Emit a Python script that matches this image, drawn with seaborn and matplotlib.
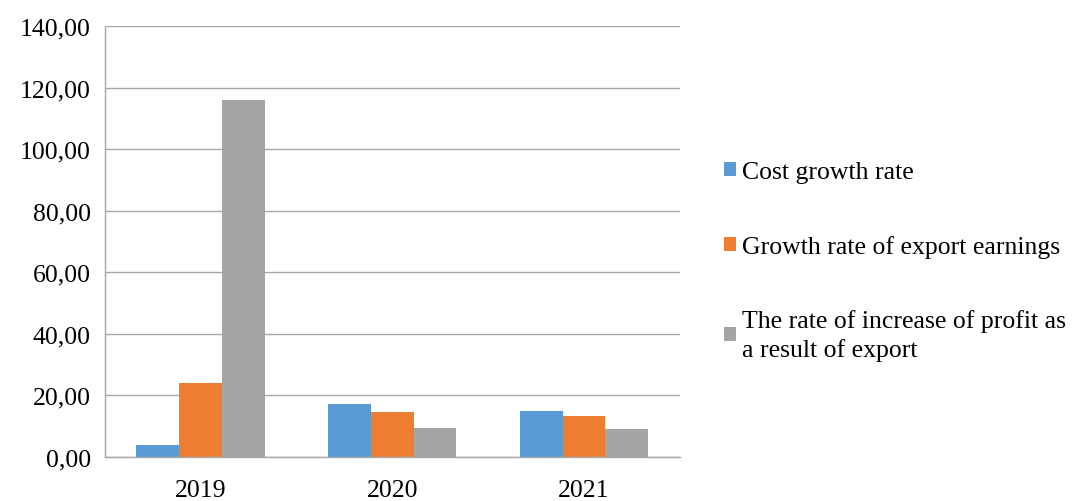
import matplotlib
matplotlib.use("Agg")
import matplotlib.pyplot as plt
import seaborn as sns
import pandas as pd
from matplotlib.ticker import FuncFormatter, FixedLocator

years = ["2019", "2020", "2021"]
series_names = ["Cost growth rate", "Growth rate of export earnings",
                "The rate of increase of profit as\na result of export"]
cost_growth = [3.9, 17.2, 14.9]
export_earnings_growth = [24.0, 14.7, 13.2]
profit_increase = [116.0, 9.4, 9.2]
colors = ["#5B9BD5", "#ED7D31", "#A5A5A5"]

rows = []
for name, vals in zip(series_names, [cost_growth, export_earnings_growth, profit_increase]):
    for y, v in zip(years, vals):
        rows.append({"year": y, "series": name, "value": v})
df = pd.DataFrame(rows)

sns.set_theme(style="white")
plt.rcParams["font.family"] = ["Liberation Serif", "DejaVu Serif"]
plt.rcParams["text.color"] = "black"

fig = plt.figure(figsize=(10.79, 5.02), dpi=100)
ax = fig.add_axes([0.097, 0.088, 0.533, 0.858])

sns.barplot(data=df, x="year", y="value", hue="series", order=years,
            hue_order=series_names, palette=colors, width=0.67,
            saturation=1, ax=ax, errorbar=None, legend=True, linewidth=0)

ax.set_ylim(0, 140)
ax.set_xlim(-0.5, 2.5)
ax.set_yticks(range(0, 141, 20))
ax.yaxis.set_major_formatter(FuncFormatter(lambda v, p: f"{v:.2f}".replace(".", ",")))
ax.grid(axis="y", color="#A6A6A6", linewidth=1)
ax.set_axisbelow(True)
ax.set_xlabel("")
ax.set_ylabel("")
for s in ["top", "right"]:
    ax.spines[s].set_visible(False)
for s in ["left", "bottom"]:
    ax.spines[s].set_color("#A6A6A6")
    ax.spines[s].set_linewidth(1)
ax.tick_params(axis="x", which="major", length=0, labelsize=18.5, pad=16)
ax.tick_params(axis="y", which="major", length=5, color="#A6A6A6", width=1,
               direction="out", labelsize=18.5, pad=5)
ax.xaxis.set_minor_locator(FixedLocator([-0.5, 0.5, 1.5, 2.5]))
ax.tick_params(axis="x", which="minor", length=6, color="#A6A6A6", width=1, direction="out")
for lbl in ax.get_xticklabels() + ax.get_yticklabels():
    lbl.set_color("black")

handles, labels = ax.get_legend_handles_labels()
ax.get_legend().remove()
leg = fig.legend(handles, labels, loc="center left", bbox_to_anchor=(0.671, 0.478),
                 frameon=False, fontsize=18.5, labelspacing=2.0, handlelength=0.45,
                 handleheight=0.45, handletextpad=0.25, borderaxespad=0, borderpad=0)
for t in leg.get_texts():
    t.set_color("black")
    t.set_linespacing(1.3)

fig.savefig("out.png", dpi=100)
